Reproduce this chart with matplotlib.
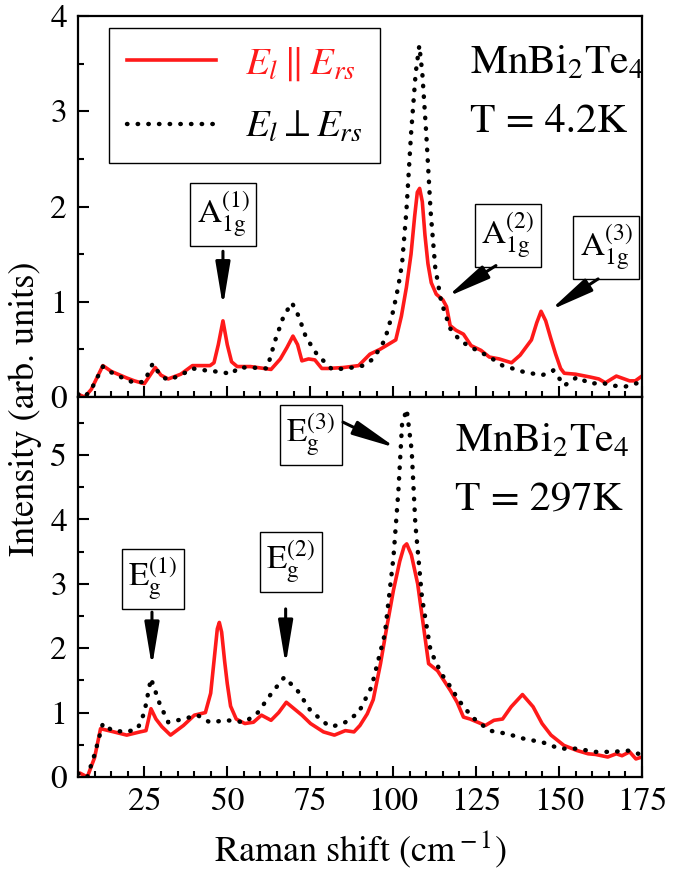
import numpy as np
import matplotlib
matplotlib.use("Agg")
import matplotlib.pyplot as plt

plt.rcParams['font.family'] = ['STIXGeneral', 'DejaVu Serif']
plt.rcParams['mathtext.fontset'] = 'stix'

# 4.2 K, parallel polarisation (red solid)
x_top_par = [5, 7, 9, 12.5, 15, 19.7, 22, 25, 28.3, 30, 32.2, 36, 39.5, 44.8, 46, 47.3, 48.7, 50,
             51.3, 53, 57, 63.2, 66, 68, 69.8, 71.2, 72.5, 74.5, 76.4, 78.5, 80.4, 85, 89.6, 93,
             96, 100.8, 102.5, 104, 105.4, 106.5, 107.3, 108, 108.8, 109.6, 110.5, 111.5, 113,
             115, 116.1, 117.2, 119, 121.2, 123.5, 126.5, 129, 132, 135.7, 138.3, 141.7, 143.3,
             144.6, 146, 147.5, 149, 150.5, 151.6, 155, 159.4, 162, 164, 167.3, 171.3, 173, 175]
y_top_par = [0.03, 0.0, 0.08, 0.33, 0.27, 0.2, 0.17, 0.14, 0.31, 0.23, 0.19, 0.24, 0.33, 0.33, 0.36,
             0.55, 0.80, 0.55, 0.37, 0.32, 0.32, 0.29, 0.4, 0.52, 0.64, 0.55, 0.38, 0.4, 0.39, 0.3,
             0.3, 0.31, 0.33, 0.45, 0.5, 0.6, 0.85, 1.15, 1.5, 1.9, 2.15, 2.19, 2.05, 1.7, 1.4, 1.2,
             1.08, 1.02, 0.95, 0.75, 0.7, 0.66, 0.54, 0.49, 0.42, 0.4, 0.36, 0.44, 0.6, 0.78,
             0.9, 0.8, 0.62, 0.45, 0.3, 0.25, 0.24, 0.21, 0.19, 0.15, 0.22, 0.17, 0.17, 0.22]

# 4.2 K, crossed polarisation (black dotted)
x_top_crs = [5, 7, 9, 12.5, 15, 19.7, 22, 25, 27.5, 30, 32.2, 36, 39.5, 43.4, 48.7, 51.3, 53.3,
             57, 62, 64.5, 67, 69.5, 71.5, 73.7, 77, 81.6, 86, 91, 94, 97.5, 100, 101.5, 102.7,
             104, 105.4, 106.8, 107.9, 108.8, 110, 111.3, 112.7, 114.5, 117.2, 120, 123, 126.5,
             130, 133, 136, 139.7, 145, 148.3, 150, 151.6, 155.5, 159.4, 163, 166, 170, 175]
y_top_crs = [0.03, 0.0, 0.08, 0.32, 0.26, 0.18, 0.15, 0.16, 0.35, 0.22, 0.18, 0.23, 0.3, 0.28, 0.26,
             0.24, 0.31, 0.31, 0.3, 0.6, 0.85, 0.99, 0.85, 0.63, 0.45, 0.29, 0.3, 0.33, 0.4, 0.6,
             0.9, 1.15, 1.4, 1.95, 2.76, 3.4, 3.69, 3.4, 2.76, 1.95, 1.36, 1.0, 0.72, 0.6, 0.53,
             0.47, 0.4, 0.33, 0.3, 0.26, 0.23, 0.28, 0.2, 0.12, 0.21, 0.14, 0.15, 0.12, 0.11, 0.16]

# 297 K, parallel polarisation (red solid)
x_bot_par = [5, 5.6, 7.8, 10, 11.8, 15.8, 19.7, 23.7, 25.5, 27, 28.5, 30.3, 32.9, 36.8, 40.1,
             43.4, 45, 46, 47, 47.6, 48.3, 49.2, 50, 51, 52.7, 55.3, 57.9, 60.3, 63.2, 65.5, 67.8,
             72.5, 75.1, 79, 82.3, 85.6, 88.2, 90, 92.2, 94, 96.2, 98, 100.1, 102, 103.3, 104.1,
             105.5, 107.4, 109, 110.7, 113.4, 117.3, 119.3, 121.2, 123.2, 127.8, 130.4, 133,
             135.6, 139, 142.2, 144.9, 147.6, 151.5, 155.5, 158.8, 161, 164.7, 167.3, 169, 171.3,
             173.2, 175]
y_bot_par = [0.05, 0.06, 0.0, 0.3, 0.75, 0.7, 0.65, 0.7, 0.72, 1.06, 0.9, 0.78, 0.65, 0.8, 0.96,
             1.0, 1.3, 1.8, 2.3, 2.40, 2.25, 1.8, 1.45, 1.1, 0.9, 0.83, 0.85, 0.96, 0.88, 1.0, 1.16,
             0.96, 0.83, 0.70, 0.65, 0.72, 0.70, 0.8, 0.98, 1.2, 1.76, 2.3, 2.9, 3.35, 3.58, 3.62,
             3.45, 3.0, 2.4, 1.76, 1.65, 1.34, 1.16, 0.93, 0.90, 0.80, 0.88, 0.90,
             1.09, 1.28, 1.09, 0.83, 0.65, 0.49, 0.41, 0.36, 0.35, 0.31, 0.36, 0.33, 0.39,
             0.28, 0.31]

# 297 K, crossed polarisation (black dotted)
x_bot_crs = [5, 5.6, 7.8, 10, 12.5, 15.3, 19.7, 23, 25, 27, 29.6, 32.2, 36.8, 41, 44.7, 50,
             55.3, 59.2, 63.2, 67.2, 71.2, 75.1, 79.7, 81.6, 85.6, 89.6, 93.5, 97.5, 100.1,
             101.6, 102.7, 104.1, 105.6, 106.7, 108.7, 111.3, 114.6, 117.3, 119.8, 123.8,
             129.1, 134.4, 139.7, 145, 150.2, 155.5, 160.8, 166, 171.3, 175]
y_bot_crs = [0.05, 0.06, 0.0, 0.35, 0.83, 0.72, 0.70, 0.75, 1.0, 1.53, 1.14, 0.85, 0.9, 0.96, 0.85,
             0.88, 0.85, 1.0, 1.29, 1.55, 1.34, 1.03, 0.83, 0.78, 0.85, 1.0, 1.40, 2.22, 3.41,
             4.45, 5.48, 5.71, 5.07, 3.93, 2.79, 1.96, 1.60, 1.40, 1.19, 0.93,
             0.72, 0.67, 0.59, 0.54, 0.44, 0.44, 0.39, 0.39, 0.41, 0.34]

# mode labels: (text, box position, arrow tail, arrow head)
top_modes = [(r'A$_{\rm 1g}^{(1)}$', (48.7, 1.92), (48.7, 1.53), (48.7, 0.95)),
             (r'A$_{\rm 1g}^{(2)}$', (134.5, 1.70), (131.0, 1.38), (116.2, 1.05)),
             (r'A$_{\rm 1g}^{(3)}$', (164.2, 1.57), (161.8, 1.24), (147.3, 0.91))]
bot_modes = [(r'E$_{\rm g}^{(1)}$', (27.6, 3.07), (27.3, 2.56), (27.3, 1.71)),
             (r'E$_{\rm g}^{(2)}$', (69.2, 3.34), (67.6, 2.61), (67.6, 1.74)),
             (r'E$_{\rm g}^{(3)}$', (75.2, 5.31), (84.9, 5.51), (100.9, 5.11))]

red = '#ff1a1a'
fig = plt.figure(figsize=(6.86, 8.69), dpi=100)
ax1 = fig.add_axes([0.1137, 0.5431, 0.822, 0.4385])
ax2 = fig.add_axes([0.1137, 0.1059, 0.822, 0.4372])

dot_style = dict(color='black', lw=3.2, ls=(0, (0.1, 2.3)), dash_capstyle='round')
red_style = dict(color=red, lw=2.6, solid_joinstyle='round')

ax1.plot(x_top_par, y_top_par, label=r'$E_l\parallel E_{rs}$', **red_style)
ax1.plot(x_top_crs, y_top_crs, label=r'$E_l\perp E_{rs}$', **dot_style)
ax2.plot(x_bot_par, y_bot_par, **red_style)
ax2.plot(x_bot_crs, y_bot_crs, **dot_style)

for ax, ymax, major in [(ax1, 4, np.arange(0, 5)), (ax2, 5.9, np.arange(0, 6))]:
    ax.set_xlim(5, 175)
    ax.set_ylim(0, ymax)
    ax.set_yticks(major)
    ax.set_yticks(np.arange(0.5, ymax, 1.0), minor=True)
    ax.set_xticks([25, 50, 75, 100, 125, 150, 175])
    ax.set_xticks(np.arange(5, 176, 5), minor=True)
    ax.tick_params(which='both', direction='in', width=1.5, labelsize=24, pad=8)
    ax.tick_params(which='major', length=8)
    ax.tick_params(which='minor', length=4.5)
    for s in ax.spines.values():
        s.set_linewidth(1.6)

ax1.tick_params(axis='x', labelbottom=False)

leg = ax1.legend(loc='upper left', bbox_to_anchor=(0.055, 0.969), borderaxespad=0,
                 fontsize=28, handlelength=2.3, handletextpad=0.75, labelspacing=0.7,
                 fancybox=False, edgecolor='black', framealpha=1, borderpad=0.45)
leg.get_frame().set_linewidth(1.0)
leg.get_texts()[0].set_color(red)

ax1.text(123.2, 3.5, r'MnBi$_2$Te$_4$', fontsize=30, ha='left', va='center')
ax1.text(123.2, 2.88, 'T = 4.2K', fontsize=30, ha='left', va='center')
ax2.text(118.7, 5.21, r'MnBi$_2$Te$_4$', fontsize=30, ha='left', va='center')
ax2.text(118.7, 4.3, 'T = 297K', fontsize=30, ha='left', va='center')

box = dict(boxstyle='square,pad=0.2', fc='white', ec='black', lw=1.0)
arrow = dict(arrowstyle='-|>,head_length=1.2,head_width=0.2', color='black', lw=2.2,
             mutation_scale=22, shrinkA=0, shrinkB=0)
for ax, modes in [(ax1, top_modes), (ax2, bot_modes)]:
    for label, pos, tail, head in modes:
        ax.text(pos[0], pos[1], label, fontsize=24, ha='center', va='center', bbox=box)
        ax.annotate('', xy=head, xytext=tail, arrowprops=arrow)

ax2.set_xlabel(r'Raman shift (cm$^{\rm -1}$)', fontsize=26, labelpad=8)
fig.text(0.037, 0.53, 'Intensity (arb. units)', rotation=90, fontsize=26,
         ha='center', va='center')

fig.savefig('out.png', dpi=100)
